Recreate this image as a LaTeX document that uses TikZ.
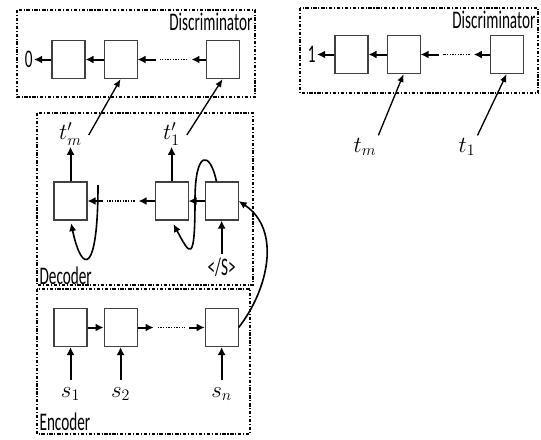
\documentclass[tikz,border=0pt]{standalone}
\usepackage{fontspec}
\setmainfont{Carlito}[FakeStretch=0.6]
\usepackage{tikz}
\usetikzlibrary{arrows.meta,positioning}
\tikzset{
  cell/.style={rectangle, draw=black!75, line width=0.8pt, minimum width=24.75pt,
               minimum height=28.5pt, inner sep=0pt},
  frame/.style={draw, line width=1.1pt, dash pattern=on 2.5pt off 1.3pt on 0.8pt off 1.3pt},
  gap/.style={inner sep=0pt, minimum width=26pt, minimum height=2pt},
  fl/.style={-{Latex[length=6pt,width=6pt]}, line width=1.5pt},
  lfl/.style={-{Latex[length=6pt,width=5pt]}, line width=1pt},
  lp/.style={-{Latex[length=6pt,width=5.5pt]}, line width=1.2pt},
  dots/.style={line width=1pt, dash pattern=on 1pt off 1pt, shorten <=3pt, shorten >=3pt},
  lbl/.style={font=\fontsize{19}{21}\selectfont, inner sep=1pt},
  sym/.style={font=\fontsize{17}{19}\selectfont, inner sep=1pt},
}
\begin{document}
\begin{tikzpicture}[x=0.75pt, y=-0.75pt]
\useasboundingbox (0,0) rectangle (541,439);
% frames
\draw[frame] (17,10) rectangle (255,97);
\draw[frame] (300,8) rectangle (538,93);
\draw[frame] (37,113) rectangle (253,285);
\draw[frame] (37,289) rectangle (250,434);
\node[lbl, anchor=north east] (ldlab) at (254,11) {Discriminator};
\node[lbl, anchor=north east] (rdlab) at (537,9) {Discriminator};
\node[lbl, anchor=south west] (declab) at (38,286) {Decoder};
\node[lbl, anchor=south west] (enclab) at (38,432) {Encoder};
% discriminator (fake)
\node[cell] (d1) at (68.5,59.5) {};
\node[cell, right=13.5pt of d1] (d2) {};
\node[gap, right=14pt of d2] (dg) {};
\node[cell, right=51pt of d2] (d3) {};
\node[lbl, left=13pt of d1] (zero) {0};
% discriminator (real)
\node[cell] (r1) at (351.5,54.5) {};
\node[cell, right=13.5pt of r1] (r2) {};
\node[gap, right=13.5pt of r2] (rg) {};
\node[cell, right=51.75pt of r2] (r3) {};
\node[lbl, left=13pt of r1] (one) {1};
\node[sym] (tm) at (365,147) {$t_m$};
\node[sym] (t1) at (467,147) {$t_1$};
% decoder
\node[cell] (da) at (70.5,201) {};
\node[cell, right=50.25pt of da] (db) {};
\node[cell, right=12pt of db] (dc) {};
\node[gap, left=12pt of db] (dcg) {};
\node[sym, above=26pt of da] (tpm) {$t'_m$};
\node[sym, above=26pt of db] (tp1) {$t'_1$};
\node[lbl, below=27pt of dc] (eos) {</S>};
\coordinate (lpa) at (98,185);
% encoder
\node[cell] (e1) at (70.5,327.5) {};
\node[cell, right=12pt of e1] (e2) {};
\node[gap, right=12pt of e2] (eg) {};
\node[cell, right=50.25pt of e2] (e3) {};
\node[sym, below=29pt of e1] (s1) {$s_1$};
\node[sym, below=29pt of e2] (s2) {$s_2$};
\node[sym, below=29pt of e3] (sn) {$s_n$};

\draw[fl] (d1.west) -- (zero.east);
\draw[fl] (d2.west) -- (d1.east);
\draw[fl] (dg.west) -- (d2.east);
\draw[dots] (dg.east) -- (dg.west);
\draw[fl] (d3.west) -- (dg.east);
\draw[fl] (r1.west) -- (one.east);
\draw[fl] (r2.west) -- (r1.east);
\draw[fl] (rg.west) -- (r2.east);
\draw[dots] (rg.east) -- (rg.west);
\draw[fl] (r3.west) -- (rg.east);
\draw[lfl, shorten <=1pt] (tm.north east) -- (r2.south);
\draw[lfl, shorten <=1pt] (t1.north east) -- (r3.south);

\draw[fl] (da.north) -- (tpm.south);
\draw[fl] (db.north) -- (tp1.south);
\draw[lfl] ([xshift=4pt,yshift=-1pt]tpm.east) -- (d2.south);
\draw[lfl] ([xshift=4pt,yshift=-1pt]tp1.east) -- (d3.south);
\draw[fl] (dc.west) -- (db.east);
\draw[fl] (db.west) -- (dcg.east);
\draw[dots] (dcg.east) -- (dcg.west);
\draw[fl] (dcg.west) -- (da.east);
\draw[fl, shorten <=2pt] (eos.north) -- (dc.south);
\draw[lp, shorten >=3pt] (dc.105) .. controls (210,150) and (195,150) .. (195,200)
  .. controls (195,265) and (190,255) .. (db.south);
\draw[lp, shorten >=2pt] (lpa) .. controls (98,275) and (82,275) .. (da.south);
\draw[lp] (e3.east) .. controls (268,290) and (282,230) .. (dc.east);

\draw[fl] (e1.east) -- (e2.west);
\draw[fl] (e2.east) -- (eg.west);
\draw[dots] (eg.west) -- (eg.east);
\draw[fl] (eg.east) -- (e3.west);
\draw[fl, shorten <=4pt] (s1.north) -- (e1.south);
\draw[fl, shorten <=4pt] (s2.north) -- (e2.south);
\draw[fl, shorten <=4pt] (sn.north) -- (e3.south);
\end{tikzpicture}
\end{document}
